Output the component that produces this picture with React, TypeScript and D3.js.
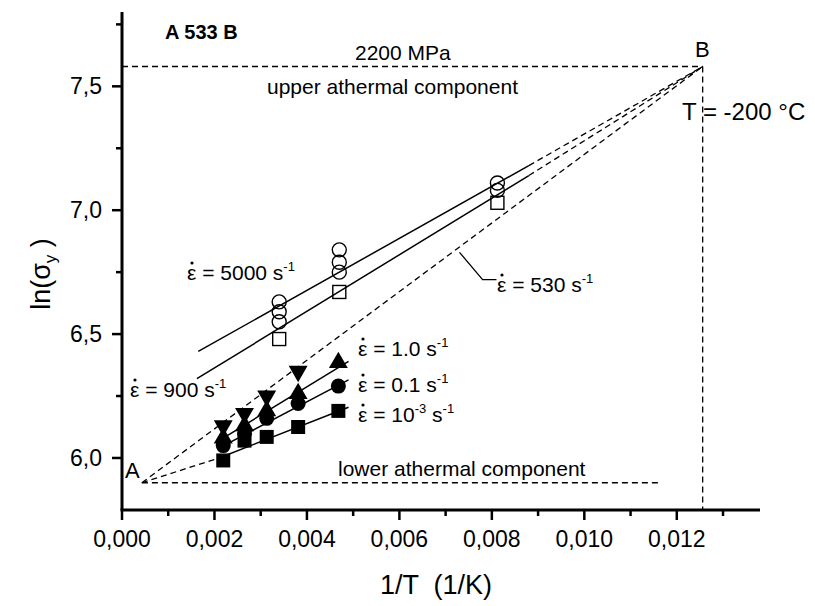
import React from 'react';
import * as d3 from 'd3';

const W = 815;
const H = 606;
const FONT = '"Liberation Sans", Arial, sans-serif';

// axis ticks
const xTicks = [0, 0.002, 0.004, 0.006, 0.008, 0.010, 0.012];
const xTickLabels = ['0,000', '0,002', '0,004', '0,006', '0,008', '0,010', '0,012'];
const xMinorTicks = [0.001, 0.003, 0.005, 0.007, 0.009, 0.011, 0.013];
const yTicks = [6.0, 6.5, 7.0, 7.5];
const yTickLabels = ['6,0', '6,5', '7,0', '7,5'];
const yMinorTicks = [6.25, 6.75, 7.25, 7.75];

// high rate tests (open symbols)
const circleX = [0.0034, 0.0034, 0.0034, 0.0047, 0.0047, 0.0047, 0.00812, 0.00812];
const circleY = [6.63, 6.59, 6.55, 6.84, 6.79, 6.75, 7.11, 7.08];
const openSquareX = [0.0034, 0.0047, 0.00812];
const openSquareY = [6.48, 6.67, 7.03];

// low rate tests (filled symbols)
const lowX = [0.00219, 0.00265, 0.00313, 0.00381, 0.00468];
const downTriY = [6.13, 6.18, 6.25, 6.35];
const upTriY = [6.08, 6.13, 6.19, 6.26, 6.385];
const dotY = [6.05, 6.10, 6.16, 6.22, 6.29];
const fillSquareY = [5.99, 6.07, 6.085, 6.125, 6.19];

// fitted lines [x, y]
const fit5000: [number, number][] = [[0.00165, 6.43], [0.0088, 7.18]];
const fit900: [number, number][] = [[0.00162, 6.32], [0.0088, 7.14]];
const fit1: [number, number][] = [[0.0021, 6.07], [0.0049, 6.39]];
const fit01: [number, number][] = [[0.0021, 6.04], [0.0049, 6.315]];
const fit1e3: [number, number][] = [[0.0021, 6.0], [0.0049, 6.205]];

// construction points
const pointA: [number, number] = [0.00043, 5.9];
const pointB: [number, number] = [0.01256, 7.58];
const lowerAthermalEnd = 0.01165;
const pointer530: [number, number][] = [[0.0073, 6.83], [0.0078, 6.72], [0.0081, 6.72]];

const x = d3.scaleLinear().domain([0, 0.0138]).range([122, 760]);
const y = d3.scaleLinear().domain([5.79, 7.80]).range([510, 12]);
const line = d3.line<[number, number]>().x(d => x(d[0])).y(d => y(d[1]));

// strain-rate label: epsilon with a dot on top
const Rate = ({ px, py, value, exp }: { px: number; py: number; value: string; exp?: string }) => (
  <g>
    <circle cx={px + 5} cy={py - 17} r={1.6} fill="#000" />
    <text x={px} y={py} fontSize={21} fontFamily={FONT}>
      {'\u03B5 = ' + value}
      {exp && <tspan dy={-9} fontSize={13}>{exp}</tspan>}
      <tspan dy={exp ? 9 : 0}>{' s'}</tspan>
      <tspan dy={-9} fontSize={13}>-1</tspan>
    </text>
  </g>
);

export default function App() {
  const tri = d3.symbol(d3.symbolTriangle, 155)()!;
  const dash = { stroke: '#000', strokeWidth: 1.3, strokeDasharray: '6,4', fill: 'none' };
  const solid = { stroke: '#000', strokeWidth: 1.5, fill: 'none' };

  return (
    <svg width={W} height={H} style={{ position: 'absolute', left: 0, top: 0, background: '#fff' }}>
      <rect width={W} height={H} fill="#fff" />

      {/* dashed construction lines */}
      <path d={line([[0, pointB[1]], pointB])!} {...dash} />
      <path d={line([pointB, [pointB[0], 5.79]])!} {...dash} />
      <path d={line([pointA, [lowerAthermalEnd, pointA[1]]])!} {...dash} />
      <path d={line([pointA, pointB])!} {...dash} />
      <path d={line([fit5000[1], pointB])!} {...dash} />
      <path d={line([fit900[1], pointB])!} {...dash} />
      <path d={line([pointA, fit1e3[0]])!} {...dash} />

      {/* fits */}
      {[fit5000, fit900, fit1, fit01, fit1e3].map((f, i) => (
        <path key={i} d={line(f)!} {...solid} />
      ))}
      <path d={line(pointer530)!} stroke="#000" strokeWidth={1.3} fill="none" />

      {/* open symbols */}
      {circleX.map((cx, i) => (
        <circle key={'c' + i} cx={x(cx)} cy={y(circleY[i])} r={7} fill="none" stroke="#000" strokeWidth={1.4} />
      ))}
      {openSquareX.map((sx, i) => (
        <rect key={'s' + i} x={x(sx) - 6.5} y={y(openSquareY[i]) - 6.5} width={13} height={13} fill="none" stroke="#000" strokeWidth={1.4} />
      ))}

      {/* filled symbols */}
      {fillSquareY.map((v, i) => (
        <rect key={'fs' + i} x={x(lowX[i]) - 7} y={y(v) - 7} width={14} height={14} fill="#000" />
      ))}
      {dotY.map((v, i) => (
        <circle key={'fd' + i} cx={x(lowX[i])} cy={y(v)} r={7.5} fill="#000" />
      ))}
      {upTriY.map((v, i) => (
        <path key={'ut' + i} d={tri} transform={`translate(${x(lowX[i])},${y(v)})`} fill="#000" />
      ))}
      {downTriY.map((v, i) => (
        <path key={'dt' + i} d={tri} transform={`translate(${x(lowX[i])},${y(v)}) rotate(180)`} fill="#000" />
      ))}

      {/* axes */}
      <line x1={122} x2={122} y1={12} y2={510} stroke="#000" strokeWidth={3} />
      <line x1={120.5} x2={760} y1={510} y2={510} stroke="#000" strokeWidth={3} />
      {xTicks.map((t, i) => (
        <g key={'xt' + i}>
          <line x1={x(t)} x2={x(t)} y1={510} y2={520} stroke="#000" strokeWidth={2.5} />
          <text x={x(t)} y={547} textAnchor="middle" fontSize={23} fontFamily={FONT}>{xTickLabels[i]}</text>
        </g>
      ))}
      {xMinorTicks.map((t, i) => (
        <line key={'xm' + i} x1={x(t)} x2={x(t)} y1={510} y2={516} stroke="#000" strokeWidth={2.5} />
      ))}
      {yTicks.map((t, i) => (
        <g key={'yt' + i}>
          <line x1={112} x2={122} y1={y(t)} y2={y(t)} stroke="#000" strokeWidth={2.5} />
          <text x={102} y={y(t) + 8} textAnchor="end" fontSize={23} fontFamily={FONT}>{yTickLabels[i]}</text>
        </g>
      ))}
      {yMinorTicks.map((t, i) => (
        <line key={'ym' + i} x1={116} x2={122} y1={y(t)} y2={y(t)} stroke="#000" strokeWidth={2.5} />
      ))}

      <text x={436} y={594} textAnchor="middle" fontSize={27} fontFamily={FONT} style={{ whiteSpace: 'pre' }}>
        {'1/T  (1/K)'}
      </text>
      <text transform="translate(50,274) rotate(-90)" textAnchor="middle" fontSize={27} fontFamily={FONT}>
        {'ln(\u03C3'}
        <tspan fontSize={17} dy={6}>y</tspan>
        <tspan dy={-6}>{' )'}</tspan>
      </text>

      {/* annotations */}
      <text x={165} y={39} fontSize={20} fontWeight="bold" fontFamily={FONT}>A 533 B</text>
      <text x={355} y={60} fontSize={21} fontFamily={FONT}>2200 MPa</text>
      <text x={267} y={94} fontSize={21} fontFamily={FONT}>upper athermal component</text>
      <text x={338} y={476} fontSize={21} fontFamily={FONT}>lower athermal component</text>
      <text x={695} y={57} fontSize={22} fontFamily={FONT}>B</text>
      <text x={125} y={478} fontSize={22} fontFamily={FONT}>A</text>
      <text x={682} y={120} fontSize={24} fontFamily={FONT}>T = -200 °C</text>

      <Rate px={187} py={280} value="5000" />
      <Rate px={130} py={397} value="900" />
      <Rate px={497} py={292} value="530" />
      <Rate px={358} py={356} value="1.0" />
      <Rate px={358} py={392} value="0.1" />
      <Rate px={358} py={422} value="10" exp="-3" />
    </svg>
  );
}
